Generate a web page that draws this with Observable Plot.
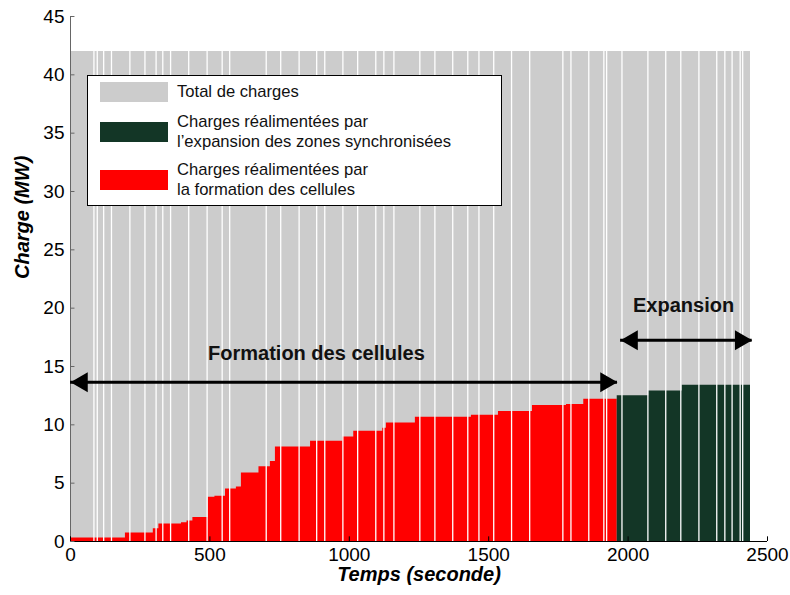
<!DOCTYPE html>
<html><head><meta charset="utf-8">
<script src="https://cdn.jsdelivr.net/npm/d3@7"></script>
<script src="https://cdn.jsdelivr.net/npm/@observablehq/plot@0.6"></script>
<style>
body{margin:0;background:#fff;font-family:"Liberation Sans",Arial,sans-serif;}
#wrap{position:relative;width:790px;height:595px;}
#legend{position:absolute;left:87px;top:75px;width:415px;height:131px;border:1.5px solid #000;background:#fff;box-sizing:border-box;font-size:16.6px;color:#111;}
.row{position:absolute;left:12px;display:flex;align-items:center;line-height:20px}
.sw{width:68px;height:20px;margin-right:9px;flex:none}
</style></head><body><div id="wrap"></div>
<script>
// axis ticks
const timeTicks = [0, 500, 1000, 1500, 2000, 2500];
const loadTicks = [0, 5, 10, 15, 20, 25, 30, 35, 40, 45];

// total load and its time span (s, MW)
const totalLoad = 42;
const endTime = 2439;

// instants separating the load blocks (white gaps)
const gapTimes = [84, 96, 119, 147, 213, 267, 307, 331, 359, 424, 490, 544, 571, 702, 754, 820,
  883, 912, 977, 1030, 1095, 1124, 1160, 1253, 1307, 1371, 1425, 1465, 1518, 1582, 1647,
  1766, 1795, 1859, 1913, 1923, 1978, 2071, 2135, 2189, 2254, 2318, 2347, 2373, 2402, 2411];

// loads restored by cell formation (step starts)
const cellTimes = [0, 197, 297, 317, 398, 418, 439, 494, 518, 556, 595, 613, 676, 717, 735, 861,
  977, 1016, 1120, 1133, 1237, 1438, 1535, 1657, 1779, 1841, 1961];
const cellLoads = [0.3, 0.72, 1.1, 1.5, 1.6, 1.76, 2.05, 3.8, 3.88, 4.5, 4.67, 5.87, 6.4, 6.85, 8.1, 8.6,
  8.95, 9.45, 9.7, 10.15, 10.65, 10.83, 11.15, 11.65, 11.75, 12.2, 12.2];

// loads restored by expansion of synchronised zones
const expTimes = [1961, 2074, 2194, 2439];
const expLoads = [12.5, 12.9, 13.4, 13.4];

// legend
const legendLabels = ["Total de charges",
  "Charges réalimentées par<br>l’expansion des zones synchronisées",
  "Charges réalimentées par<br>la formation des cellules"];
const legendColors = ["#cccccc", "#133626", "#ff0000"];

// annotated phases
const phaseLabels = ["Formation des cellules", "Expansion"];
const phaseStart = [0, 1973];
const phaseEnd = [1962, 2445];
const phaseLevel = [13.65, 17.25];
const phaseLabelTime = [882, 2199];
const phaseLabelLevel = [16.1, 20.2];

const cells = cellTimes.map((t, i) => ({t, v: cellLoads[i]}));
const exps = expTimes.map((t, i) => ({t, v: expLoads[i]}));
const phases = phaseLabels.map((label, i) => ({label, t1: phaseStart[i], t2: phaseEnd[i], y: phaseLevel[i], lt: phaseLabelTime[i], ly: phaseLabelLevel[i]}));

const plot = Plot.plot({
  width: 790, height: 595,
  marginLeft: 70, marginRight: 23, marginTop: 16, marginBottom: 54,
  x: {domain: [0, 2500]},
  y: {domain: [0, 45]},
  style: {fontFamily: "'Liberation Sans', Arial, sans-serif", fontSize: "19px", background: "#fff", color: "#000"},
  marks: [
    Plot.rect([{t1: 0, t2: endTime, v: totalLoad}], {x1: "t1", x2: "t2", y1: 0, y2: "v", fill: "#cccccc"}),
    Plot.areaY(cells, {x: "t", y: "v", curve: "step-after", fill: "#ff0000"}),
    Plot.areaY(exps, {x: "t", y: "v", curve: "step-after", fill: "#133626"}),
    Plot.ruleX(gapTimes, {y1: 0, y2: totalLoad, stroke: "#fff", strokeWidth: 1.3}),
    Plot.ruleY([0], {stroke: "#000", strokeWidth: 1}),
    Plot.ruleX([0], {stroke: "#666", strokeWidth: 1}),
    Plot.ruleX(timeTicks, {y1: 0, y2: 0.4, stroke: "#000"}),
    Plot.ruleY(loadTicks, {x1: 0, x2: 16, stroke: "#666"}),
    Plot.axisX(timeTicks, {tickSize: 0, tickPadding: 6, label: null, fontSize: 19, tickFormat: d3.format("d")}),
    Plot.axisY(loadTicks, {tickSize: 0, tickPadding: 6, label: null, fontSize: 19, tickFormat: d3.format("d")}),
    Plot.ruleY(phases, {y: "y", x1: "t1", x2: "t2", stroke: "#000", strokeWidth: 3}),
    Plot.dot(phases, {x: "t1", y: "y", symbol: "triangle", r: 7.4, rotate: -90, fill: "#000", dx: 11.5}),
    Plot.dot(phases, {x: "t2", y: "y", symbol: "triangle", r: 7.4, rotate: 90, fill: "#000", dx: -11.5}),
    Plot.text(phases, {x: "lt", y: "ly", text: "label", fontWeight: "bold", fontSize: 20, fill: "#111"}),
    Plot.text(["Temps (seconde)"], {frameAnchor: "bottom", dy: 39, fontWeight: "bold", fontStyle: "italic", fontSize: 20}),
    Plot.text(["Charge (MW)"], {frameAnchor: "left", rotate: -90, dx: -48, fontWeight: "bold", fontStyle: "italic", fontSize: 20})
  ]
});

const wrap = document.getElementById("wrap");
wrap.appendChild(plot);

const legend = document.createElement("div");
legend.id = "legend";
const rowTops = [6, 36, 84];
const rowHeights = [20, 40, 40];
legendLabels.forEach((lab, i) => {
  const row = document.createElement("div");
  row.className = "row";
  row.style.top = rowTops[i] + "px";
  row.style.height = rowHeights[i] + "px";
  row.innerHTML = `<div class="sw" style="background:${legendColors[i]}"></div><div>${lab}</div>`;
  legend.appendChild(row);
});
wrap.appendChild(legend);
</script>
</body></html>
